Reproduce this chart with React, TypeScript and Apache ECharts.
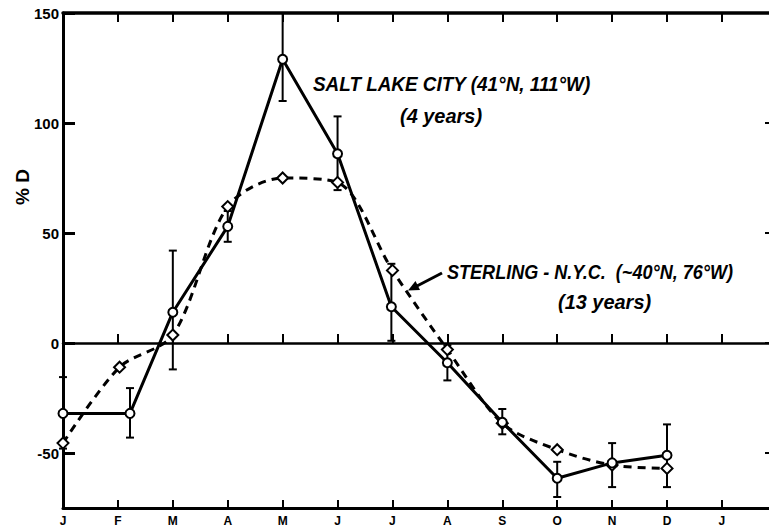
import React, { useEffect, useRef } from "react";
import * as echarts from "echarts";

// Month tick labels (January through the following January)
const monthLabels = ["J", "F", "M", "A", "M", "J", "J", "A", "S", "O", "N", "D", "J"];
const yTickValues = [-50, 0, 50, 100, 150];

// Salt Lake City: monthly mean %D with error bars
const slcMonth = [0, 1.22, 2, 3, 4, 5, 5.98, 7, 8, 9, 10, 11];
const slcValues = [-32, -32, 14, 53, 129, 86, 16.5, -9, -36, -61.5, -54.5, -51];
const slcLow = [-48, -43, -12, 46, 110, 69.5, 1, -17, -41.5, -70, -65.5, -65.5];
const slcHigh = [-15.5, -20.5, 42, 60, 150, 103, 36, -1, -30, -54, -45.5, -37];

// Sterling - N.Y.C.: monthly mean %D
const sterlingMonth = [0, 1.03, 2, 3, 4, 5, 6, 7, 8, 9, 10, 11];
const sterlingValues = [-45.5, -11, 3.6, 62, 75, 73, 33, -3, -36.5, -48.5, -55.5, -57];

const FONT = "Liberation Sans";
const INK = "#000";

export default function App() {
  const ref = useRef<HTMLDivElement>(null);

  useEffect(() => {
    if (!ref.current) return;
    const chart = echarts.init(ref.current, null, { renderer: "svg" });

    const monthTicks = monthLabels.map((_, i) => i);
    const slcData = slcMonth.map((m, i) => [m, slcValues[i]]);
    const sterlingData = sterlingMonth.map((m, i) => [m, sterlingValues[i]]);
    const errData = slcMonth.map((m, i) => [m, slcLow[i], slcHigh[i]]);

    const labelText = (
      text: string,
      x: number,
      y: number,
      scaleX: number
    ) => ({
      type: "text",
      x,
      y,
      scaleX,
      style: {
        text,
        x: 0,
        y: 0,
        textAlign: "left",
        textVerticalAlign: "middle",
        fontFamily: FONT,
        fontWeight: "bold",
        fontStyle: "italic",
        fontSize: 21,
        fill: INK,
      },
      z: 10,
    });

    const option: any = {
      animation: false,
      backgroundColor: "#fff",
      grid: {
        left: 63,
        top: 13,
        right: -4,
        bottom: 20,
        containLabel: false,
        outerBoundsMode: "none",
      },
      xAxis: [
        {
          // bottom axis with month labels
          type: "value",
          position: "bottom",
          min: 0,
          max: 12.93,
          axisLine: { onZero: false, lineStyle: { color: INK, width: 3 } },
          axisTick: {
            inside: true,
            length: 8,
            customValues: monthTicks,
            lineStyle: { color: INK, width: 2 },
          },
          axisLabel: {
            customValues: monthTicks,
            formatter: (v: number) => monthLabels[Math.round(v)] ?? "",
            color: INK,
            fontFamily: FONT,
            fontWeight: "bold",
            fontSize: 12,
            lineHeight: 12,
            margin: 7,
          },
          splitLine: { show: false },
        },
        {
          // zero line with upward month ticks
          type: "value",
          position: "bottom",
          min: 0,
          max: 12.93,
          axisLine: { onZero: true, lineStyle: { color: INK, width: 2.5 } },
          axisTick: {
            inside: true,
            length: 9,
            customValues: monthTicks,
            lineStyle: { color: INK, width: 2 },
          },
          axisLabel: { show: false },
          splitLine: { show: false },
        },
        {
          // top frame
          type: "value",
          position: "top",
          min: 0,
          max: 12.93,
          axisLine: { onZero: false, lineStyle: { color: INK, width: 3.5 } },
          axisTick: {
            inside: true,
            length: 9,
            customValues: monthTicks,
            lineStyle: { color: INK, width: 2 },
          },
          axisLabel: { show: false },
          splitLine: { show: false },
        },
      ],
      yAxis: [
        {
          type: "value",
          position: "left",
          min: -75,
          max: 150,
          axisLine: { onZero: false, lineStyle: { color: INK, width: 3 } },
          axisTick: {
            inside: true,
            length: 12,
            customValues: yTickValues,
            lineStyle: { color: INK, width: 3 },
          },
          axisLabel: {
            customValues: yTickValues,
            color: INK,
            fontFamily: FONT,
            fontWeight: "bold",
            fontSize: 15,
            margin: 4,
          },
          splitLine: { show: false },
        },
        {
          type: "value",
          position: "right",
          min: -75,
          max: 150,
          axisLine: { show: false, onZero: false },
          axisTick: {
            show: true,
            inside: true,
            length: 8,
            customValues: yTickValues,
            lineStyle: { color: INK, width: 2 },
          },
          axisLabel: { show: false },
          splitLine: { show: false },
        },
      ],
      series: [
        {
          name: "Salt Lake City error",
          type: "custom",
          xAxisIndex: 0,
          yAxisIndex: 0,
          data: errData,
          encode: { x: 0, y: [1, 2] },
          z: 2,
          renderItem: (_params: any, api: any) => {
            const x = api.value(0);
            const lo = api.coord([x, api.value(1)]);
            const hi = api.coord([x, api.value(2)]);
            const half = 4;
            const style = { stroke: INK, lineWidth: 2 };
            return {
              type: "group",
              children: [
                { type: "line", shape: { x1: lo[0], y1: lo[1], x2: hi[0], y2: hi[1] }, style },
                { type: "line", shape: { x1: lo[0] - half, y1: lo[1], x2: lo[0] + half, y2: lo[1] }, style },
                { type: "line", shape: { x1: hi[0] - half, y1: hi[1], x2: hi[0] + half, y2: hi[1] }, style },
              ],
            };
          },
        },
        {
          name: "Sterling - N.Y.C.",
          type: "line",
          xAxisIndex: 0,
          yAxisIndex: 0,
          data: sterlingData,
          smooth: 0.3,
          symbol: "emptyDiamond",
          symbolSize: 11,
          z: 3,
          lineStyle: { color: INK, width: 3, type: [8, 6] },
          itemStyle: { color: INK, borderColor: INK, borderWidth: 2 },
        },
        {
          name: "Salt Lake City",
          type: "line",
          xAxisIndex: 0,
          yAxisIndex: 0,
          data: slcData,
          symbol: "emptyCircle",
          symbolSize: 9,
          z: 4,
          lineStyle: { color: INK, width: 3 },
          itemStyle: { color: INK, borderColor: INK, borderWidth: 2 },
        },
      ],
      graphic: [
        {
          // y-axis title
          type: "text",
          x: 22,
          y: 187,
          rotation: Math.PI / 2,
          style: {
            text: "% D",
            x: 0,
            y: 0,
            textAlign: "center",
            textVerticalAlign: "middle",
            fontFamily: FONT,
            fontWeight: "bold",
            fontSize: 19,
            fill: INK,
          },
        },
        labelText("SALT LAKE CITY (41°N, 111°W)", 313, 84, 0.9),
        labelText("(4 years)", 400, 115, 0.95),
        labelText("STERLING - N.Y.C.  (~40°N, 76°W)", 447, 271, 0.86),
        labelText("(13 years)", 558, 301, 0.95),
        {
          type: "line",
          shape: { x1: 442, y1: 273, x2: 416, y2: 286.5 },
          style: { stroke: INK, lineWidth: 3 },
          z: 10,
        },
        {
          type: "polygon",
          shape: { points: [[408, 290.5], [420, 290], [415.5, 281]] },
          style: { fill: INK },
          z: 10,
        },
      ],
    };

    chart.setOption(option);
    return () => chart.dispose();
  }, []);

  return (
    <div
      ref={ref}
      style={{ position: "fixed", left: 0, top: 0, width: 769, height: 528 }}
    />
  );
}
